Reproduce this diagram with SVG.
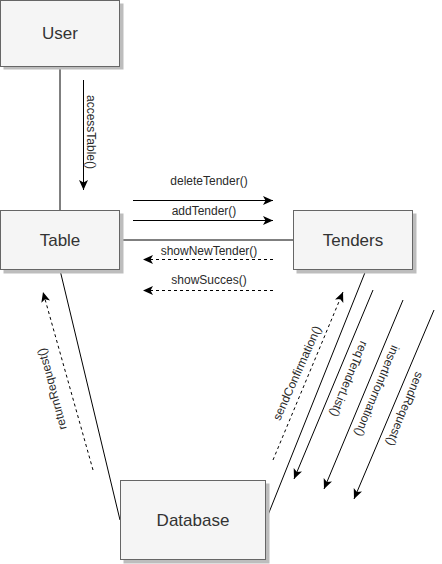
<svg xmlns="http://www.w3.org/2000/svg" width="442" height="564" viewBox="0 0 442 564">
<style>
.box{fill:#f5f5f5;stroke:#666666;stroke-width:1}
.shadow{fill:#bdbdbd}
.nlabel{font-family:"Liberation Sans",Arial,sans-serif;font-size:17px;fill:#333333;text-anchor:middle}
.elabel{font-family:"Liberation Sans",Arial,sans-serif;font-size:12px;fill:#2a2a2a;text-anchor:middle}
.line{stroke:#000;stroke-width:1;fill:none}
.dash{stroke:#000;stroke-width:1;fill:none;stroke-dasharray:3 3}
</style>
<defs>
<marker id="arr" markerUnits="userSpaceOnUse" markerWidth="12" markerHeight="10" refX="10" refY="4.5" orient="auto">
<path d="M0,0 L10,4.5 L0,9 L2.5,4.5 Z" fill="#000"/>
</marker>
</defs>
<g id="connectors">
<line class="line" x1="60" y1="67" x2="60" y2="210"/>
<line class="line" x1="83.5" y1="80" x2="83.5" y2="190" marker-end="url(#arr)"/>
<text class="elabel" transform="translate(91,132) rotate(90)" y="4">accessTable()</text>
<line class="line" x1="120" y1="240" x2="293" y2="240"/>
<line class="line" x1="133" y1="200.5" x2="273" y2="200.5" marker-end="url(#arr)"/>
<text class="elabel" x="209" y="185">deleteTender()</text>
<line class="line" x1="133" y1="220.5" x2="273" y2="220.5" marker-end="url(#arr)"/>
<text class="elabel" x="204" y="215">addTender()</text>
<line class="dash" x1="273" y1="259.5" x2="143" y2="259.5" marker-end="url(#arr)"/>
<text class="elabel" x="209" y="255">showNewTender()</text>
<line class="dash" x1="273" y1="290.5" x2="143" y2="290.5" marker-end="url(#arr)"/>
<text class="elabel" x="209" y="284">showSucces()</text>
<line class="line" x1="60" y1="270" x2="120" y2="520"/>
<line class="dash" x1="93" y1="470" x2="43" y2="292" marker-end="url(#arr)"/>
<text class="elabel" transform="translate(52,389) rotate(-105)" y="4">returnRequest()</text>
<line class="line" x1="266" y1="520" x2="366" y2="270"/>
<line class="dash" x1="273" y1="460" x2="343" y2="292" marker-end="url(#arr)"/>
<text class="elabel" transform="translate(297,373) rotate(-66)" y="4">sendConfirmation()</text>
<line class="line" x1="373" y1="290" x2="294" y2="479" marker-end="url(#arr)"/>
<text class="elabel" transform="translate(349,379) rotate(112.5)" y="4">reqTenderList()</text>
<line class="line" x1="403" y1="300" x2="324" y2="489" marker-end="url(#arr)"/>
<text class="elabel" transform="translate(377,391) rotate(112.5)" y="4">insertInformation()</text>
<line class="line" x1="434" y1="310" x2="354" y2="499" marker-end="url(#arr)"/>
<text class="elabel" transform="translate(405,409) rotate(112.5)" y="4">sendRequest()</text>
</g>
<g id="node-user">
<rect class="shadow" x="3.5" y="3.5" width="120" height="66"/>
<rect class="box" x="0.5" y="0.5" width="119" height="66"/>
<text class="nlabel" x="60" y="39">User</text>
</g>
<g id="node-table">
<rect class="shadow" x="3.5" y="213.5" width="120" height="60"/>
<rect class="box" x="0.5" y="210.5" width="119" height="59"/>
<text class="nlabel" x="60" y="246">Table</text>
</g>
<g id="node-tenders">
<rect class="shadow" x="296.5" y="213.5" width="120" height="60"/>
<rect class="box" x="293.5" y="210.5" width="119" height="59"/>
<text class="nlabel" x="353" y="246">Tenders</text>
</g>
<g id="node-database">
<rect class="shadow" x="123.5" y="483.5" width="146" height="80"/>
<rect class="box" x="120.5" y="480.5" width="145" height="79"/>
<text class="nlabel" x="193" y="526">Database</text>
</g>
</svg>
